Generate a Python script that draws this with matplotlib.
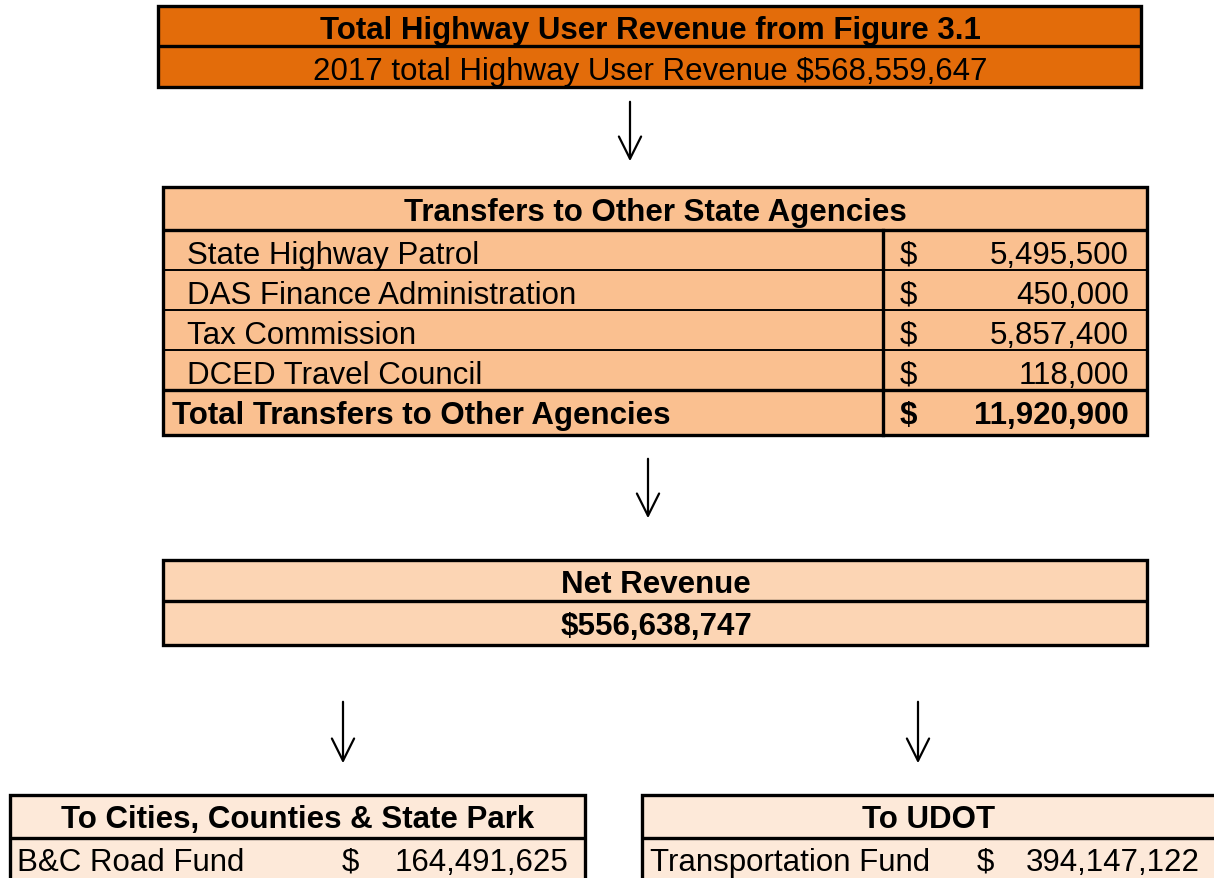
import matplotlib.pyplot as plt
from matplotlib.patches import Rectangle

plt.rcParams['font.family'] = ['Liberation Sans', 'DejaVu Sans']

# data
top_title = 'Total Highway User Revenue from Figure 3.1'
year = 2017
total_revenue = 568559647
agencies = ['State Highway Patrol', 'DAS Finance Administration',
            'Tax Commission', 'DCED Travel Council']
amounts = [5495500, 450000, 5857400, 118000]
total_label = 'Total Transfers to Other Agencies'
net_revenue = total_revenue - sum(amounts)
left_title = 'To Cities, Counties & State Park'
left_fund = 'B&C Road Fund'
left_amount = 164491625
right_title = 'To UDOT'
right_fund = 'Transportation Fund'
right_amount = 394147122

c_dark = '#E36C0A'
c_mid = '#FAC090'
c_light = '#FCD5B4'
c_pale = '#FDE9D9'

fig = plt.figure(figsize=(12.14, 8.79), dpi=100)
ax = fig.add_axes([0, 0, 1, 1])
ax.set_xlim(0, 1214)
ax.set_ylim(879, 0)
ax.axis('off')

FS = 22.5
LW_OUT = 2.4
LW_IN = 1.4


def box(x0, x1, y0, y1, color, lw=LW_OUT):
    ax.add_patch(Rectangle((x0, y0), x1 - x0, y1 - y0, facecolor=color,
                           edgecolor='black', linewidth=lw, zorder=1))


def hline(x0, x1, y, lw=LW_OUT):
    ax.plot([x0, x1], [y, y], color='black', lw=lw, zorder=2,
            solid_capstyle='butt')


def arrow(x, y0, y1):
    ax.annotate('', xy=(x, y1), xytext=(x, y0),
                arrowprops=dict(arrowstyle='->', color='black', lw=1.6,
                                mutation_scale=40))


# box 1
box(158, 1141, 7, 88, c_dark)
hline(158, 1141, 47)
ax.text(650, 31, top_title, ha='center', va='center', fontsize=FS,
        fontweight='bold')
ax.text(650, 72, f'{year} total Highway User Revenue ${total_revenue:,}',
        ha='center', va='center', fontsize=FS)

arrow(630, 100, 165)

# box 2
row_y = [231, 271, 311, 351, 391]
box(163, 1147, 188, 436, c_mid)
hline(163, 1147, 231)
for y in row_y[1:-1]:
    hline(163, 1147, y, LW_IN)
hline(163, 1147, row_y[-1])
ax.plot([883, 883], [231, 436], color='black', lw=LW_OUT, zorder=2)
ax.text(655, 213, 'Transfers to Other State Agencies', ha='center',
        va='center', fontsize=FS, fontweight='bold')
for i, (name, amt) in enumerate(zip(agencies, amounts)):
    yc = (row_y[i] + row_y[i + 1]) / 2 + 5
    ax.text(187, yc, name, ha='left', va='center', fontsize=FS)
    ax.text(908, yc, '$', ha='center', va='center', fontsize=FS)
    ax.text(1129, yc, f'{amt:,}', ha='right', va='center', fontsize=FS)
yc = (391 + 436) / 2 + 3
ax.text(172, yc, total_label, ha='left', va='center', fontsize=FS,
        fontweight='bold')
ax.text(908, yc, '$', ha='center', va='center', fontsize=FS,
        fontweight='bold')
ax.text(1129, yc, f'{sum(amounts):,}', ha='right', va='center', fontsize=FS,
        fontweight='bold')

arrow(648, 457, 522)

# box 3
box(163, 1147, 561, 646, c_light)
hline(163, 1147, 602)
ax.text(656, 585, 'Net Revenue', ha='center', va='center', fontsize=FS,
        fontweight='bold')
ax.text(656, 627, f'${net_revenue:,}', ha='center', va='center',
        fontsize=FS, fontweight='bold')

arrow(343, 700, 767)
arrow(918, 700, 767)

# bottom boxes
box(10, 585, 796, 900, c_pale)
hline(10, 585, 839)
ax.text(298, 820, left_title, ha='center', va='center', fontsize=FS,
        fontweight='bold')
ax.text(17, 863, left_fund, ha='left', va='center', fontsize=FS)
ax.text(350, 863, '$', ha='center', va='center', fontsize=FS)
ax.text(568, 863, f'{left_amount:,}', ha='right', va='center', fontsize=FS)

box(642, 1230, 796, 900, c_pale)
hline(642, 1230, 839)
ax.text(929, 820, right_title, ha='center', va='center', fontsize=FS,
        fontweight='bold')
ax.text(650, 863, right_fund, ha='left', va='center', fontsize=FS)
ax.text(985, 863, '$', ha='center', va='center', fontsize=FS)
ax.text(1200, 863, f'{right_amount:,}', ha='right', va='center', fontsize=FS)

fig.savefig('out.png', dpi=100)
